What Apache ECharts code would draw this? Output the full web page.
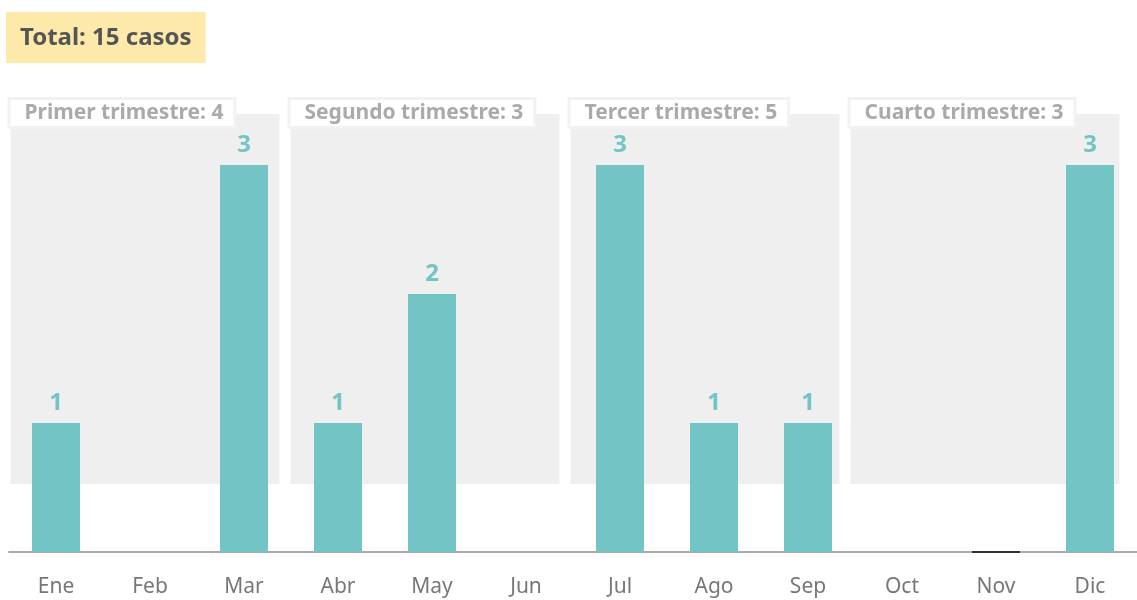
<!DOCTYPE html>
<html>
<head>
<meta charset="utf-8">
<script src="https://cdn.jsdelivr.net/npm/echarts@6/dist/echarts.min.js"></script>
<style>
  html, body { margin: 0; padding: 0; background: #fff; }
  #chart { width: 1137px; height: 600px; }
</style>
</head>
<body>
<div id="chart"></div>
<script>
// datos
var meses = ["Ene", "Feb", "Mar", "Abr", "May", "Jun", "Jul", "Ago", "Sep", "Oct", "Nov", "Dic"];
var casos = [1, 0, 3, 1, 2, 0, 3, 1, 1, 0, 0, 3];
var trimestres = ["Primer trimestre", "Segundo trimestre", "Tercer trimestre", "Cuarto trimestre"];

var FONT = "Noto Sans";
var TEAL = "#72c5c4";

// totales por trimestre y total
var totalesTrim = trimestres.map(function (t, i) {
  return casos.slice(i * 3, i * 3 + 3).reduce(function (a, b) { return a + b; }, 0);
});
var total = casos.reduce(function (a, b) { return a + b; }, 0);

var barras = casos.map(function (v, i) {
  if (meses[i] == "Nov") {
    // el mes de noviembre aparece marcado con una linea oscura
    return { value: v, itemStyle: { borderColor: "#333", borderWidth: 2 } };
  }
  return v;
});

var chart = echarts.init(document.getElementById("chart"));

var option = {
  animation: false,
  textStyle: { fontFamily: FONT },
  title: {
    text: "Total: " + total + " casos",
    left: 6,
    top: 12,
    backgroundColor: "#fde9a9",
    padding: [14, 14, 13, 14],
    textStyle: { fontFamily: FONT, fontSize: 24, fontWeight: "bold", color: "#555" }
  },
  grid: [
    { left: 9, right: 0, top: 36, bottom: 48 },
    { left: 5, width: 1120, top: 114, bottom: 116 }
  ],
  xAxis: [
    {
      type: "category",
      gridIndex: 0,
      data: meses,
      axisLine: { lineStyle: { color: "#aaa", width: 2 } },
      axisTick: { show: false },
      axisLabel: { color: "#777", fontSize: 21, margin: 25, fontFamily: FONT }
    },
    {
      type: "category",
      gridIndex: 1,
      data: trimestres,
      show: false
    }
  ],
  yAxis: [
    { type: "value", gridIndex: 0, min: 0, max: 4, show: false },
    { type: "value", gridIndex: 1, min: 0, max: 1, show: false }
  ],
  series: [
    {
      name: "fondo",
      type: "bar",
      xAxisIndex: 1,
      yAxisIndex: 1,
      barWidth: 269,
      z: 1,
      silent: true,
      itemStyle: { color: "#efefef" },
      data: trimestres.map(function () { return 1; }),
      label: {
        show: true,
        position: [0, -14],
        formatter: function (p) { return trimestres[p.dataIndex] + ": " + totalesTrim[p.dataIndex]; },
        backgroundColor: "#fff",
        borderColor: "#f2f2f2",
        borderWidth: 3,
        padding: [3, 10, 2, 14],
        color: "#aaa",
        fontSize: 21,
        fontWeight: "bold",
        fontFamily: FONT
      }
    },
    {
      name: "casos",
      type: "bar",
      xAxisIndex: 0,
      yAxisIndex: 0,
      barWidth: 48,
      z: 2,
      itemStyle: { color: TEAL },
      data: barras,
      label: {
        show: true,
        position: "top",
        distance: 8,
        color: TEAL,
        fontSize: 24,
        fontWeight: "bold",
        fontFamily: FONT,
        formatter: function (p) { return p.value > 0 ? p.value : ""; }
      }
    }
  ]
};

chart.setOption(option);
</script>
</body>
</html>
